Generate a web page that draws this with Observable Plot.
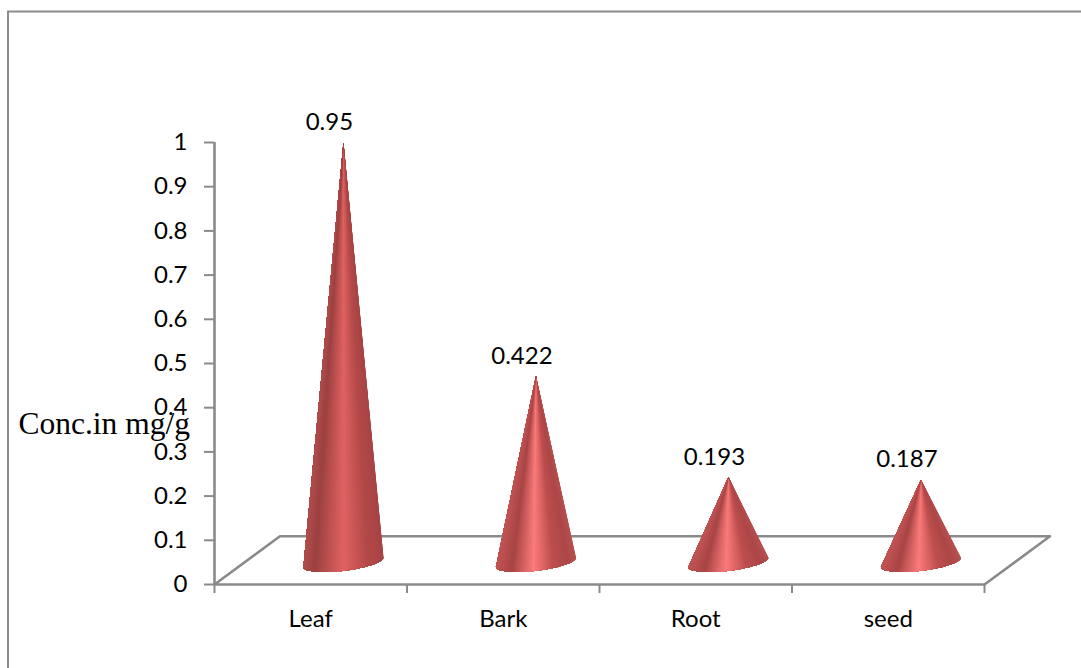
<!DOCTYPE html>
<html>
<head>
<meta charset="utf-8">
<style>
  html, body { margin: 0; padding: 0; background: #fff; }
</style>
<script src="https://cdn.jsdelivr.net/npm/d3@7"></script>
<script src="https://cdn.jsdelivr.net/npm/@observablehq/plot@0.6"></script>
</head>
<body>
<script>
// Concentration by plant part, mg/g
const parts = ["Leaf", "Bark", "Root", "seed"];
const concentrations = [0.95, 0.422, 0.193, 0.187];
const valueTicks = [0, 0.1, 0.2, 0.3, 0.4, 0.5, 0.6, 0.7, 0.8, 0.9, 1];

// Oblique projection of the chart's floor: depth shifts x (category units) and y (axis units)
const depthX = 0.34;
const depthY = 0.109;
const coneDepth = 0.5;
const coneRadius = 0.208;
const ellipseHeight = 0.019;
const ellipseTilt = 0.0105;
const gores = 80;

const floor = [
  {x: 0, y: 0},
  {x: depthX, y: depthY},
  {x: 4 + depthX, y: depthY},
  {x: 4, y: 0},
  {x: 0, y: 0}
];

// Surface shading, left to right across a cone
const leafShade = d3.scaleLinear()
  .domain([0, 0.14, 0.5, 0.8, 1])
  .range(["#b24d4d", "#9c4141", "#e06262", "#b34949", "#a84444"]);
const brightShade = d3.scaleLinear()
  .domain([0, 0.2, 0.47, 0.72, 0.9, 1])
  .range(["#c25454", "#a84545", "#fb7a7a", "#bd4e4e", "#ad4747", "#b85050"]);
const shades = [leafShade, brightShade, brightShade, brightShade];

// A cone is a fan of narrow gores from the apex to the front of the tilted base ellipse.
// Each gore runs on under its neighbour so no hairline shows between them.
function coneGores(value, i) {
  const cx = i + 0.5 + depthX * coneDepth;
  const cy = depthY * coneDepth - 0.0045;
  const rim = t => ({
    x: cx + coneRadius * Math.cos(t),
    y: cy + ellipseTilt * Math.cos(t) - ellipseHeight * Math.sin(t)
  });
  const pts = [];
  for (let k = 0; k < gores; ++k) {
    const t0 = Math.PI * k / gores;
    const t1 = Math.PI;
    const across = (1 - Math.cos(t0 + Math.PI / gores / 2)) / 2;
    const shade = d3.color(shades[i](1 - across)).formatHex();
    const gore = `${i}-${String(k).padStart(3, "0")}`;
    pts.push({x: cx, y: cy + value, gore, shade});
    for (const t of d3.range(t0, t1 + 1e-6, Math.PI / gores)) pts.push({...rim(t), gore, shade});
  }
  return pts;
}

// Thin border along the top and left of the picture
function pageBorder() {
  return d3.create("svg:path")
    .attr("d", "M8,668V11.5H1081")
    .attr("fill", "none")
    .attr("stroke", "#8c8c8c")
    .attr("stroke-width", 2)
    .node();
}

const axisColor = "#8a8a8a";
const axisWidth = 2.6;
const labelFont = "Lato";

const chart = Plot.plot({
  width: 1081,
  height: 668,
  marginTop: 142,
  marginBottom: 84,
  marginLeft: 214,
  marginRight: 97,
  style: {background: "#fff", color: "#000", fontFamily: labelFont, fontSize: "24px"},
  x: {domain: [0, 4], axis: null},
  y: {domain: [0, 1], axis: null},
  color: {type: "identity"},
  marks: [
    pageBorder,
    Plot.line(floor, {x: "x", y: "y", stroke: axisColor, strokeWidth: axisWidth}),
    Plot.ruleX([0], {y1: 0, y2: 1, stroke: axisColor, strokeWidth: axisWidth}),
    Plot.axisY({
      ticks: valueTicks, tickSize: 10, tickPadding: 17, stroke: axisColor,
      strokeWidth: 2, fill: "#000", tickFormat: d => String(d), label: null
    }),
    Plot.axisX({
      ticks: [0, 1, 2, 3, 4], tickSize: 9, stroke: axisColor, strokeWidth: 2,
      tickFormat: () => "", label: null
    }),
    Plot.axisX({
      ticks: parts.map((_, i) => i + 0.5), tickSize: 0, tickPadding: 25, fill: "#000",
      tickFormat: d => parts[d - 0.5], label: null
    }),
    ...concentrations.map((v, i) =>
      Plot.line(coneGores(v, i), {x: "x", y: "y", z: "gore", fill: "shade", stroke: "none"})
    ),
    Plot.text(concentrations, {
      x: (_, i) => i + 0.5 + depthX * coneDepth - 0.073,
      y: d => d + depthY * coneDepth - 0.0045,
      text: d => String(d),
      dy: -20,
      fill: "#000",
      fontFamily: labelFont,
      fontSize: 24
    }),
    Plot.text(["Conc.in mg/g"], {
      frameAnchor: "top-left",
      dx: -196,
      dy: 269,
      fill: "#000",
      fontFamily: "Liberation Serif",
      fontSize: 31.5
    })
  ]
});

document.body.append(chart);
</script>
</body>
</html>
